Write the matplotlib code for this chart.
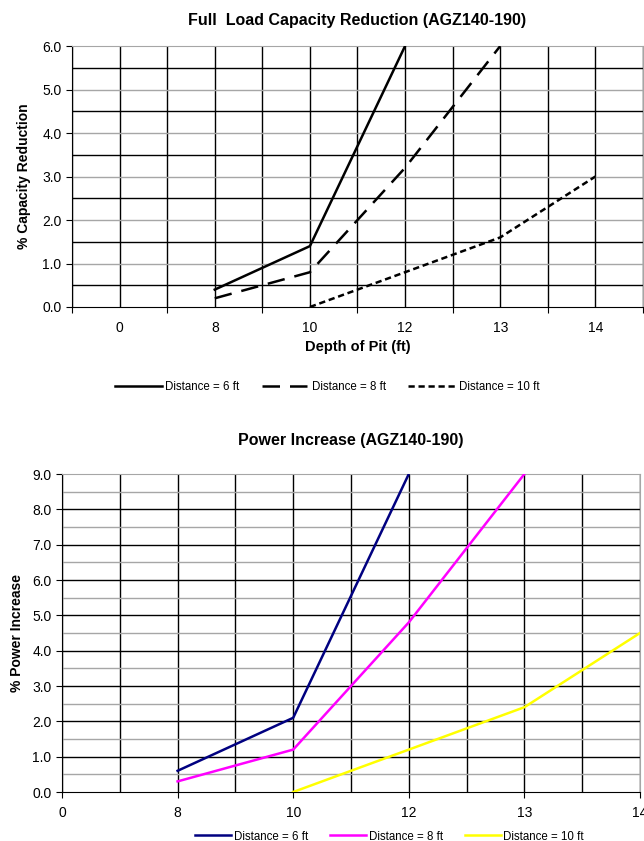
import numpy as np
import matplotlib.pyplot as plt

cats = ['0', '8', '10', '12', '13', '14']
nan = np.nan

# Full load capacity reduction (%)
cap_6 = [nan, 0.4, 1.4, 6.0, nan, nan]
cap_8 = [nan, 0.2, 0.8, 3.2, 6.0, nan]
cap_10 = [nan, nan, 0.0, 0.8, 1.6, 3.0]

# Power increase (%)
pow_6 = [nan, 0.6, 2.1, 9.0, nan, nan]
pow_8 = [nan, 0.3, 1.2, 4.8, 9.0, nan]
pow_10 = [nan, nan, 0.0, 1.2, 2.4, 4.5]

labels = ['Distance = 6 ft', 'Distance = 8 ft', 'Distance = 10 ft']

plt.rcParams['font.family'] = ['Liberation Sans', 'DejaVu Sans']

fig = plt.figure(figsize=(6.44, 8.41), dpi=100)
gray = '#a6a6a6'

# ---------- top chart ----------
ax1 = fig.add_axes([72 / 644, 1 - 307 / 841, 571 / 644, 261 / 841])
x = np.arange(len(cats))
ax1.set_xlim(-0.5, len(cats) - 0.5)
ax1.set_ylim(0, 6)
for v in np.arange(-0.5, len(cats), 0.5):
    ax1.axvline(v, color='black', lw=1.0, zorder=1)
for v in np.arange(1, 6):
    ax1.axhline(v, color=gray, lw=1.0, zorder=1)
for v in np.arange(0.5, 6, 1):
    ax1.axhline(v, color='black', lw=1.0, zorder=1)

ax1.plot(x, cap_6, color='black', lw=1.8, label=labels[0], zorder=3)
ax1.plot(x, cap_8, color='black', lw=1.8, dashes=(7, 4), label=labels[1], zorder=3)
ax1.plot(x, cap_10, color='black', lw=1.8, dashes=(2.5, 1.5), label=labels[2], zorder=3)

ax1.set_xticks(np.arange(-0.5, len(cats), 1))
ax1.set_xticklabels([])
ax1.set_xticks(x, minor=True)
ax1.set_xticklabels(cats, minor=True, fontsize=10)
ax1.tick_params(axis='x', which='minor', length=0, pad=10)
ax1.tick_params(axis='x', which='major', length=4, direction='out')
ax1.set_yticks(np.arange(0, 7, 1))
ax1.set_yticklabels(['%.1f' % v for v in np.arange(0, 7, 1)], fontsize=10)
ax1.tick_params(axis='y', length=4, direction='out')
for s in ['top', 'right']:
    ax1.spines[s].set_color(gray)
ax1.set_xlabel('Depth of Pit (ft)', fontsize=10.5, fontweight='bold', labelpad=4)
ax1.set_ylabel('% Capacity Reduction', fontsize=10, fontweight='bold', labelpad=8)
ax1.set_title('Full  Load Capacity Reduction (AGZ140-190)', fontsize=11.5,
              fontweight='bold', pad=15)
ax1.legend(loc='center', bbox_to_anchor=(0.447, -0.305), ncol=3, frameon=False,
           fontsize=8.3, handlelength=4.1, handletextpad=0.3, columnspacing=1.9)

# ---------- bottom chart ----------
ax2 = fig.add_axes([62 / 644, 1 - 792 / 841, 578 / 644, 318 / 841])
ax2.set_xlim(0, len(cats) - 1)
ax2.set_ylim(0, 9)
for v in np.arange(0, len(cats) - 0.5, 0.5):
    ax2.axvline(v, color='black', lw=1.0, zorder=1)
for v in np.arange(0.5, 9, 1):
    ax2.axhline(v, color=gray, lw=1.0, zorder=1)
for v in np.arange(1, 9):
    ax2.axhline(v, color='black', lw=1.0, zorder=1)

ax2.plot(x, pow_6, color='#000080', lw=1.8, label=labels[0], zorder=3)
ax2.plot(x, pow_8, color='#ff00ff', lw=1.8, label=labels[1], zorder=3)
ax2.plot(x, pow_10, color='#ffff00', lw=1.8, label=labels[2], zorder=3)

ax2.set_xticks(x)
ax2.set_xticklabels(cats, fontsize=10)
ax2.tick_params(axis='x', length=4, direction='out', pad=6)
ax2.set_yticks(np.arange(0, 10, 1))
ax2.set_yticklabels(['%.1f' % v for v in np.arange(0, 10, 1)], fontsize=10)
ax2.tick_params(axis='y', length=4, direction='out')
for s in ['top', 'right']:
    ax2.spines[s].set_color(gray)
ax2.set_ylabel('% Power Increase', fontsize=10, fontweight='bold', labelpad=6)
ax2.set_title('Power Increase (AGZ140-190)', fontsize=11.5, fontweight='bold', pad=21)
ax2.legend(loc='center', bbox_to_anchor=(0.567, -0.14), ncol=3, frameon=False,
           fontsize=8.3, handlelength=3.1, handletextpad=0.25, columnspacing=1.9)

fig.savefig('out.png', dpi=100)
